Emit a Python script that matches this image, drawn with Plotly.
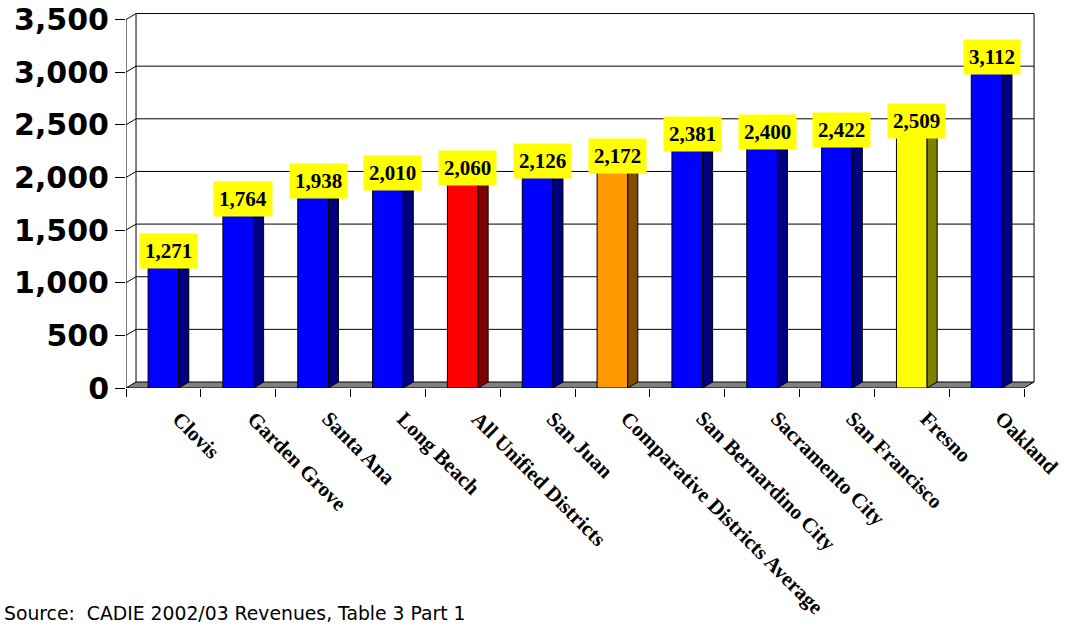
import plotly.graph_objects as go

# District revenue per ADA (2002/03)
districts = [
    "Clovis", "Garden Grove", "Santa Ana", "Long Beach", "All Unified Districts",
    "San Juan", "Comparative Districts Average", "San Bernardino City",
    "Sacramento City", "San Francisco", "Fresno", "Oakland",
]
revenue = [1271, 1764, 1938, 2010, 2060, 2126, 2172, 2381, 2400, 2422, 2509, 3112]
y_ticks = [0, 500, 1000, 1500, 2000, 2500, 3000, 3500]

# front / side face colours per bar
front_colors = ["#0000FF"] * 12
side_colors = ["#000080"] * 12
front_colors[4], side_colors[4] = "#FF0000", "#800000"
front_colors[6], side_colors[6] = "#FF9900", "#7F4C00"
front_colors[10], side_colors[10] = "#FFFF00", "#808000"

# pseudo-3D depth offsets (in data units) and bar width
DX = 0.134
DY = 57
BW = 0.41
Y_MAX = y_ticks[-1]
n = len(districts)
x_lo, x_hi = -0.5, n - 0.5

fig = go.Figure()

# front faces
fig.add_trace(go.Bar(
    x=list(range(n)), y=revenue, width=BW,
    marker=dict(color=front_colors, line=dict(color="black", width=1)),
    hoverinfo="skip", showlegend=False,
))

# side and top faces
for i, v in enumerate(revenue):
    r = i + BW / 2
    l = i - BW / 2
    fig.add_trace(go.Scatter(
        x=[r, r + DX, r + DX, r, r], y=[0, DY, v + DY, v, 0],
        mode="lines", fill="toself", fillcolor=side_colors[i],
        line=dict(color="black", width=1), hoverinfo="skip", showlegend=False,
    ))
    fig.add_trace(go.Scatter(
        x=[l, r, r + DX, l + DX, l], y=[v, v, v + DY, v + DY, v],
        mode="lines", fill="toself", fillcolor=front_colors[i],
        line=dict(color="black", width=1), hoverinfo="skip", showlegend=False,
    ))

shapes = []
# floor
shapes.append(dict(
    type="path", xref="x", yref="y", layer="below",
    path=f"M {x_lo} 0 L {x_hi} 0 L {x_hi + DX} {DY} L {x_lo + DX} {DY} Z",
    fillcolor="#808080", line=dict(color="black", width=1),
))
# gridlines on back wall plus side-wall diagonals
for v in y_ticks[1:]:
    shapes.append(dict(
        type="path", xref="x", yref="y", layer="below",
        path=f"M {x_lo} {v} L {x_lo + DX} {v + DY} L {x_hi + DX} {v + DY}",
        line=dict(color="black", width=1),
    ))
# wall edges and front value axis
for x0, y0, x1, y1 in [
    (x_lo + DX, DY, x_lo + DX, Y_MAX + DY),
    (x_hi + DX, DY, x_hi + DX, Y_MAX + DY),
    (x_lo, 0, x_lo, Y_MAX),
]:
    shapes.append(dict(type="line", xref="x", yref="y", layer="below",
                       x0=x0, y0=y0, x1=x1, y1=y1,
                       line=dict(color="black", width=1)))

annotations = []
# value labels centred on each bar's top face
for i, v in enumerate(revenue):
    annotations.append(dict(
        x=i + DX / 2, y=v + DY / 2, xref="x", yref="y",
        text=f"{v:,}", showarrow=False, bgcolor="#FFFF00", borderpad=5,
        font=dict(family="Liberation Serif", size=21, color="black", weight="bold"),
        xanchor="center", yanchor="middle",
    ))
# rotated category labels
for i, name in enumerate(districts):
    annotations.append(dict(
        x=i, y=0, xref="x", yref="y", text=f"<b>{name}</b>", showarrow=False,
        textangle=45, xanchor="left", yanchor="top", yshift=-16, xshift=1,
        font=dict(family="Liberation Serif", size=21, color="black"),
    ))
annotations.append(dict(
    x=-0.1358, y=-0.594, xref="paper", yref="paper",
    text="Source:\u00a0 CADIE 2002/03 Revenues, Table 3 Part 1",
    showarrow=False, xanchor="left", yanchor="middle",
    font=dict(family="DejaVu Sans", size=18.8, color="black"),
))

fig.update_layout(
    width=1065, height=627,
    margin=dict(l=126, r=26, t=9, b=239),
    paper_bgcolor="white", plot_bgcolor="white",
    shapes=shapes, annotations=annotations,
    xaxis=dict(
        range=[x_lo, 11.7], showgrid=False, zeroline=False, showline=False,
        automargin=False,
        tickvals=list(range(n)), ticktext=[""] * n, ticks="",
        minor=dict(tickvals=[k - 0.5 for k in range(n + 1)], ticks="outside",
                   ticklen=8, tickcolor="black", tickwidth=1, showgrid=False),
    ),
    yaxis=dict(
        range=[0, 3600], showgrid=False, zeroline=False, showline=False,
        automargin=False,
        tickvals=y_ticks, tickformat=",", ticks="outside", ticklen=10,
        tickcolor="black", tickwidth=1,
        tickfont=dict(family="DejaVu Sans", size=30, color="black", weight="bold"),
    ),
)

fig.write_html("out.html")
